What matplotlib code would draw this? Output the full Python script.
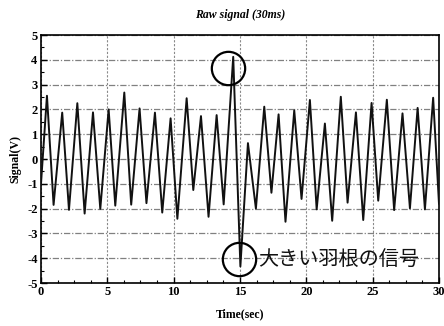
import matplotlib
matplotlib.use("Agg")
import matplotlib.pyplot as plt
from matplotlib.ticker import MultipleLocator

plt.rcParams["axes.unicode_minus"] = False

# peaks and troughs of the blade signal, in time order (sec, V)
t_sig = [0.0, 0.45, 0.95, 1.6, 2.11, 2.74, 3.29, 3.92, 4.47, 5.1, 5.6, 6.28, 6.8,
         7.43, 7.95, 8.59, 9.14, 9.77, 10.28, 10.98, 11.48, 12.06, 12.63, 13.24,
         13.77, 14.49, 15.03, 15.6, 16.2, 16.83, 17.37, 17.91, 18.43, 19.09, 19.64,
         20.27, 20.78, 21.4, 21.95, 22.6, 23.11, 23.74, 24.29, 24.92, 25.42, 26.07,
         26.62, 27.25, 27.81, 28.39, 28.94, 29.56, 30.0]
v_sig = [-1.0, 2.55, -1.85, 1.87, -2.05, 2.25, -2.2, 1.88, -2.01, 2.0, -1.88, 2.68, -1.84,
         2.04, -1.78, 1.87, -2.16, 1.64, -2.41, 2.45, -1.25, 1.73, -2.33, 1.77,
         -1.83, 4.12, -4.33, 0.64, -2.0, 2.11, -1.36, 1.8, -2.53, 1.96, -1.61,
         2.38, -2.03, 1.43, -2.49, 2.51, -1.76, 1.88, -2.46, 2.26, -1.68, 2.39,
         -2.06, 1.84, -1.99, 2.06, -2.03, 2.47, -1.8]

# circled marks and the note next to the lower one
circle_t = [14.07, 14.92]
circle_v = [3.68, -4.03]
note = "大きい羽根の信号"

serif = "Liberation Serif"

fig = plt.figure(figsize=(4.44, 3.26), dpi=100)
ax = fig.add_axes([0.0923, 0.1319, 0.8964, 0.7607])

ax.plot(t_sig, v_sig, color="#111111", lw=1.4, zorder=3)
ax.plot(circle_t, circle_v, "o", ms=24, mfc="none", mec="black", mew=1.6, zorder=4)
ax.text(16.35, -4.03, note, fontsize=14.5, family=["Noto Sans CJK JP", "DejaVu Sans"],
        va="center", ha="left", color="#111111", zorder=5)

ax.set_xlim(0, 30)
ax.set_ylim(-5, 5)
ax.xaxis.set_major_locator(MultipleLocator(5))
ax.xaxis.set_minor_locator(MultipleLocator(1.25))
ax.yaxis.set_major_locator(MultipleLocator(1))
ax.yaxis.set_minor_locator(MultipleLocator(0.5))
ax.tick_params(which="both", direction="in", colors="black")
ax.tick_params(which="major", length=4, width=1, pad=2.5)
ax.tick_params(which="minor", length=2.5, width=0.8)

ax.grid(axis="x", which="major", color="#8a8a8a", ls=(0, (2, 1.5)), lw=0.8)
ax.grid(axis="y", which="major", color="#808080", ls=(0, (5, 1.5, 1, 1.5)), lw=0.9)

for lab in ax.get_xticklabels() + ax.get_yticklabels():
    lab.set_family(serif)
    lab.set_fontweight("bold")
    lab.set_fontsize(9)

for sp in ax.spines.values():
    sp.set_linewidth(1.2)

ax.set_title("Raw signal (30ms)", family=serif, fontweight="bold", style="italic",
             fontsize=8.5, pad=12)
ax.set_xlabel("Time(sec)", family=serif, fontweight="bold", fontsize=8.5, labelpad=7)
ax.set_ylabel("Signal(V)", family=serif, fontweight="bold", fontsize=8.5, labelpad=4)

fig.savefig("out.png", dpi=100)
